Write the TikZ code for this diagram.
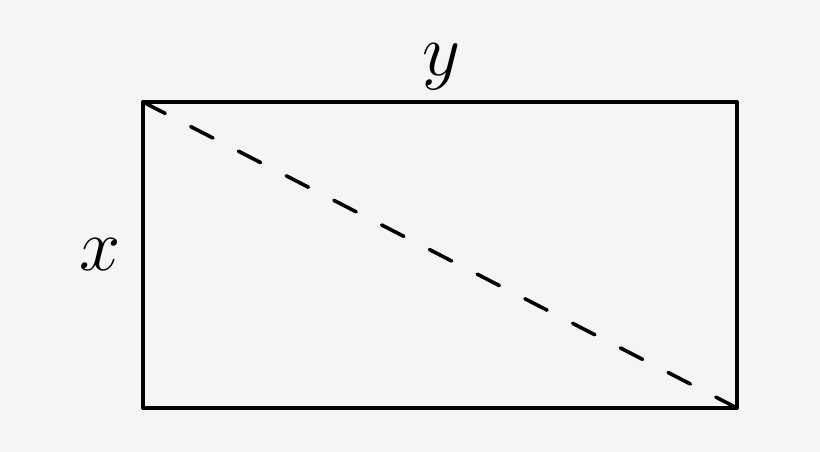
\documentclass[tikz,border=0pt]{standalone}
\usepackage{fix-cm}
\usepackage{fontspec}
\begin{document}
\begin{tikzpicture}[x=1pt,y=-1pt,
  frame/.style={line width=3.9pt,line join=round,line cap=round},
  diag/.style={line width=3.6pt,line cap=round,dash pattern=on 25pt off 28.7pt},
  lbl/.style={inner sep=0pt,font=\fontsize{74}{74}\selectfont}]
\fill[fill={rgb,255:red,245;green,245;blue,245}] (0,0) rectangle (820,452);
\useasboundingbox (0,0) rectangle (820,452);
\coordinate (tl) at (143,102);
\coordinate (br) at (737,408);
\draw[frame] (tl) rectangle (br);
\draw[diag] (tl) -- (br);
\node[lbl] (ylab) at (441,67) {$y$};
\node[lbl] (xlab) at (100,255) {$x$};
\end{tikzpicture}
\end{document}
